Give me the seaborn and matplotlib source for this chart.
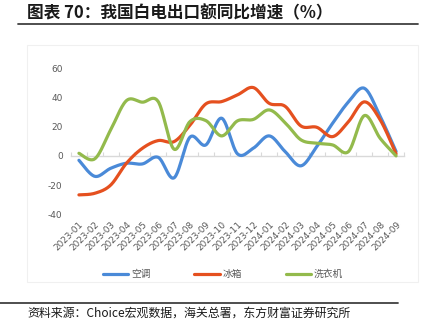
import numpy as np
import pandas as pd
import matplotlib
matplotlib.use("Agg")
import matplotlib.pyplot as plt
import seaborn as sns
from matplotlib.lines import Line2D
from matplotlib.patches import Rectangle

months = ["2023-01", "2023-02", "2023-03", "2023-04", "2023-05", "2023-06", "2023-07",
          "2023-08", "2023-09", "2023-10", "2023-11", "2023-12", "2024-01", "2024-02",
          "2024-03", "2024-04", "2024-05", "2024-06", "2024-07", "2024-08", "2024-09"]
ac = [-3, -14, -8.5, -5, -5.5, -1, -15, 12.8, 7.5, 25.8, 1.4, 5.3, 13.7, 3, -6.8, 6.4, 22.4, 37, 46.3, 27, 3]
fridge = [-26.7, -25.6, -20, -5, 5.2, 10.5, 9.8, 21, 35.6, 37.2, 41.8, 46.8, 36, 34, 20.5, 19.6, 13.2, 23.5, 37, 24.7, 1.4]
washer = [1.8, -2, 17.8, 37.9, 36.8, 37.2, 4.6, 23.5, 24.2, 13.7, 24, 25, 31.5, 22.8, 11, 8.7, 7.5, 3, 27.6, 12, 0]
series_names = ["空调", "冰箱", "洗衣机"]
colors = ["#4a8ad8", "#e5501f", "#93ba4c"]
yticks = [-40, -20, 0, 20, 40, 60]

sns.set_style("white")
plt.rcParams["font.family"] = ["Noto Sans CJK SC", "DejaVu Sans"]


def smooth(vals, n=24):
    """Excel-style smoothed line: cubic Bezier through the points."""
    p = np.array(vals, dtype=float)
    x = np.arange(len(p), dtype=float)
    pts = np.column_stack([x, p])
    out = []
    for i in range(len(pts) - 1):
        p0 = pts[max(i - 1, 0)]
        p1 = pts[i]
        p2 = pts[i + 1]
        p3 = pts[min(i + 2, len(pts) - 1)]
        c1 = p1 + (p2 - p0) / 6.0
        c2 = p2 - (p3 - p1) / 6.0
        t = np.linspace(0, 1, n, endpoint=(i == len(pts) - 2))[:, None]
        b = ((1 - t) ** 3) * p1 + 3 * ((1 - t) ** 2) * t * c1 + 3 * (1 - t) * t ** 2 * c2 + t ** 3 * p2
        out.append(b)
    out = np.vstack(out)
    return out[:, 0], out[:, 1]


fig = plt.figure(figsize=(4.24, 3.35), dpi=100)
W, H = 424, 335
ax = fig.add_axes([71 / W, 1 - 214.3 / H, (404 - 71) / W, (214.3 - 68.3) / H])
ax.patch.set_alpha(0)

frames = []
for name, vals in zip(series_names, [ac, fridge, washer]):
    xs, ys = smooth(vals)
    frames.append(pd.DataFrame({"x": xs, "y": ys, "s": name}))
df = pd.concat(frames, ignore_index=True)

sns.lineplot(data=df, x="x", y="y", hue="s", palette=dict(zip(series_names, colors)),
             sort=False, estimator=None, linewidth=2.3, ax=ax, legend=False, zorder=3)

ax.set_xlim(-0.5, len(months) - 0.5)
ax.set_ylim(-40, 60)
ax.set_yticks(yticks)
ax.set_yticklabels([str(v) for v in yticks], fontsize=6.5, color="#595959",
                   family=["DejaVu Sans"])
ax.tick_params(axis="y", length=0, pad=6)
for s in ["top", "right", "left"]:
    ax.spines[s].set_visible(False)
ax.spines["bottom"].set_position(("data", 0))
ax.spines["bottom"].set_color("#d9d9d9")
ax.spines["bottom"].set_linewidth(1.0)
ax.spines["bottom"].set_zorder(1)
ax.set_xticks(np.arange(len(months) + 1) - 0.5)
ax.tick_params(axis="x", direction="in", length=3, color="#d9d9d9", labelbottom=False)
ax.set_xlabel("")
ax.set_ylabel("")

# category labels at the bottom of the plot
ax2 = ax.twiny()
ax2.set_xlim(ax.get_xlim())
ax2.xaxis.set_ticks_position("bottom")
ax2.xaxis.set_label_position("bottom")
ax2.set_xticks(np.arange(len(months)))
ax2.set_xticklabels(months, rotation=45, ha="right", rotation_mode="anchor",
                    fontsize=6.4, color="#595959", family=["DejaVu Sans"])
ax2.tick_params(axis="x", length=0, pad=4)
for s in ax2.spines.values():
    s.set_visible(False)

# legend
handles = [Line2D([0], [0], color=c, lw=2.3) for c in colors]
fig.legend(handles, series_names, loc="center", bbox_to_anchor=(0.5 + 11 / W, 1 - 274 / H),
           ncol=3, frameon=False, fontsize=7, handlelength=2.6, columnspacing=4.5,
           handletextpad=0.3, labelcolor="#595959")

# plot area faint border
fig.patches.append(Rectangle((27 / W, 1 - 282 / H), (418 - 27) / W, (282 - 45) / H,
                             transform=fig.transFigure, fill=False, edgecolor="#f0f0f0",
                             linewidth=0.8))

# title and rules
fig.text(27 / W, 1 - 13 / H, "图表 70：我国白电出口额同比增速（%）", fontsize=12,
         fontweight="bold", va="center", ha="left", color="#1a1a1a")
fig.add_artist(Line2D([18 / W, 418 / W], [1 - 24 / H, 1 - 24 / H], color="#404040",
                      lw=1.3, transform=fig.transFigure))
fig.add_artist(Line2D([0 / W, 398 / W], [1 - 303 / H, 1 - 303 / H], color="#404040",
                      lw=1.3, transform=fig.transFigure))
fig.text(27 / W, 1 - 313 / H, "资料来源：Choice宏观数据，海关总署，东方财富证券研究所",
         fontsize=8.6, va="center", ha="left", color="#1a1a1a")

fig.savefig("out.png", dpi=100)
